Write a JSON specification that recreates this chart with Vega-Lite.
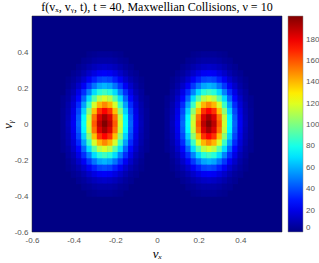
{
"$schema": "https://vega.github.io/schema/vega-lite/v6.json",
"width": 250, "height": 216,
"autosize": {"type": "none"},
"padding": {"left": 32, "top": 16, "right": 37, "bottom": 31},
"background": "white",
"title": {"text": "f(vₓ, vᵧ, t), t = 40, Maxwellian Collisions, ν = 10", "font": "Liberation Serif", "fontSize": 12, "fontWeight": "normal", "color": "#000000", "anchor": "middle", "offset": 2},
"data": {"values": [
{"x":-0.325,"y":0.385,"v":2},{"x":-0.3,"y":0.385,"v":3},{"x":-0.275,"y":0.385,"v":4},{"x":-0.25,"y":0.385,"v":4},{"x":-0.225,"y":0.385,"v":4},{"x":-0.2,"y":0.385,"v":3},{"x":-0.175,"y":0.385,"v":2},
{"x":0.175,"y":0.385,"v":2},{"x":0.2,"y":0.385,"v":3},{"x":0.225,"y":0.385,"v":4},{"x":0.25,"y":0.385,"v":4},{"x":0.275,"y":0.385,"v":4},{"x":0.3,"y":0.385,"v":3},{"x":0.325,"y":0.385,"v":2},
{"x":-0.35,"y":0.35,"v":3},{"x":-0.325,"y":0.35,"v":4},{"x":-0.3,"y":0.35,"v":6},{"x":-0.275,"y":0.35,"v":7},{"x":-0.25,"y":0.35,"v":7},{"x":-0.225,"y":0.35,"v":7},{"x":-0.2,"y":0.35,"v":6},{"x":-0.175,"y":0.35,"v":4},{"x":-0.15,"y":0.35,"v":3},
{"x":0.15,"y":0.35,"v":3},{"x":0.175,"y":0.35,"v":4},{"x":0.2,"y":0.35,"v":6},{"x":0.225,"y":0.35,"v":7},{"x":0.25,"y":0.35,"v":7},{"x":0.275,"y":0.35,"v":7},{"x":0.3,"y":0.35,"v":6},{"x":0.325,"y":0.35,"v":4},{"x":0.35,"y":0.35,"v":3},
{"x":-0.375,"y":0.315,"v":3},{"x":-0.35,"y":0.315,"v":5},{"x":-0.325,"y":0.315,"v":8},{"x":-0.3,"y":0.315,"v":11},{"x":-0.275,"y":0.315,"v":13},{"x":-0.25,"y":0.315,"v":14},{"x":-0.225,"y":0.315,"v":13},{"x":-0.2,"y":0.315,"v":11},{"x":-0.175,"y":0.315,"v":8},{"x":-0.15,"y":0.315,"v":5},{"x":-0.125,"y":0.315,"v":3},
{"x":0.125,"y":0.315,"v":3},{"x":0.15,"y":0.315,"v":5},{"x":0.175,"y":0.315,"v":8},{"x":0.2,"y":0.315,"v":11},{"x":0.225,"y":0.315,"v":13},{"x":0.25,"y":0.315,"v":14},{"x":0.275,"y":0.315,"v":13},{"x":0.3,"y":0.315,"v":11},{"x":0.325,"y":0.315,"v":8},{"x":0.35,"y":0.315,"v":5},{"x":0.375,"y":0.315,"v":3},
{"x":-0.4,"y":0.28,"v":3},{"x":-0.375,"y":0.28,"v":5},{"x":-0.35,"y":0.28,"v":9},{"x":-0.325,"y":0.28,"v":14},{"x":-0.3,"y":0.28,"v":19},{"x":-0.275,"y":0.28,"v":23},{"x":-0.25,"y":0.28,"v":24},{"x":-0.225,"y":0.28,"v":23},{"x":-0.2,"y":0.28,"v":19},{"x":-0.175,"y":0.28,"v":14},{"x":-0.15,"y":0.28,"v":9},{"x":-0.125,"y":0.28,"v":5},{"x":-0.1,"y":0.28,"v":3},
{"x":0.1,"y":0.28,"v":3},{"x":0.125,"y":0.28,"v":5},{"x":0.15,"y":0.28,"v":9},{"x":0.175,"y":0.28,"v":14},{"x":0.2,"y":0.28,"v":19},{"x":0.225,"y":0.28,"v":23},{"x":0.25,"y":0.28,"v":24},{"x":0.275,"y":0.28,"v":23},{"x":0.3,"y":0.28,"v":19},{"x":0.325,"y":0.28,"v":14},{"x":0.35,"y":0.28,"v":9},{"x":0.375,"y":0.28,"v":5},{"x":0.4,"y":0.28,"v":3},
{"x":-0.425,"y":0.245,"v":2},{"x":-0.4,"y":0.245,"v":5},{"x":-0.375,"y":0.245,"v":9},{"x":-0.35,"y":0.245,"v":15},{"x":-0.325,"y":0.245,"v":23},{"x":-0.3,"y":0.245,"v":31},{"x":-0.275,"y":0.245,"v":38},{"x":-0.25,"y":0.245,"v":40},{"x":-0.225,"y":0.245,"v":38},{"x":-0.2,"y":0.245,"v":31},{"x":-0.175,"y":0.245,"v":23},{"x":-0.15,"y":0.245,"v":15},{"x":-0.125,"y":0.245,"v":9},{"x":-0.1,"y":0.245,"v":5},{"x":-0.075,"y":0.245,"v":2},
{"x":0.075,"y":0.245,"v":2},{"x":0.1,"y":0.245,"v":5},{"x":0.125,"y":0.245,"v":9},{"x":0.15,"y":0.245,"v":15},{"x":0.175,"y":0.245,"v":23},{"x":0.2,"y":0.245,"v":31},{"x":0.225,"y":0.245,"v":38},{"x":0.25,"y":0.245,"v":40},{"x":0.275,"y":0.245,"v":38},{"x":0.3,"y":0.245,"v":31},{"x":0.325,"y":0.245,"v":23},{"x":0.35,"y":0.245,"v":15},{"x":0.375,"y":0.245,"v":9},{"x":0.4,"y":0.245,"v":5},{"x":0.425,"y":0.245,"v":2},
{"x":-0.425,"y":0.21,"v":3},{"x":-0.4,"y":0.21,"v":7},{"x":-0.375,"y":0.21,"v":14},{"x":-0.35,"y":0.21,"v":23},{"x":-0.325,"y":0.21,"v":36},{"x":-0.3,"y":0.21,"v":48},{"x":-0.275,"y":0.21,"v":58},{"x":-0.25,"y":0.21,"v":61},{"x":-0.225,"y":0.21,"v":58},{"x":-0.2,"y":0.21,"v":48},{"x":-0.175,"y":0.21,"v":36},{"x":-0.15,"y":0.21,"v":23},{"x":-0.125,"y":0.21,"v":14},{"x":-0.1,"y":0.21,"v":7},{"x":-0.075,"y":0.21,"v":3},
{"x":0.075,"y":0.21,"v":3},{"x":0.1,"y":0.21,"v":7},{"x":0.125,"y":0.21,"v":14},{"x":0.15,"y":0.21,"v":23},{"x":0.175,"y":0.21,"v":36},{"x":0.2,"y":0.21,"v":48},{"x":0.225,"y":0.21,"v":58},{"x":0.25,"y":0.21,"v":61},{"x":0.275,"y":0.21,"v":58},{"x":0.3,"y":0.21,"v":48},{"x":0.325,"y":0.21,"v":36},{"x":0.35,"y":0.21,"v":23},{"x":0.375,"y":0.21,"v":14},{"x":0.4,"y":0.21,"v":7},{"x":0.425,"y":0.21,"v":3},
{"x":-0.425,"y":0.175,"v":5},{"x":-0.4,"y":0.175,"v":10},{"x":-0.375,"y":0.175,"v":20},{"x":-0.35,"y":0.175,"v":34},{"x":-0.325,"y":0.175,"v":51},{"x":-0.3,"y":0.175,"v":69},{"x":-0.275,"y":0.175,"v":83},{"x":-0.25,"y":0.175,"v":88},{"x":-0.225,"y":0.175,"v":83},{"x":-0.2,"y":0.175,"v":69},{"x":-0.175,"y":0.175,"v":51},{"x":-0.15,"y":0.175,"v":34},{"x":-0.125,"y":0.175,"v":20},{"x":-0.1,"y":0.175,"v":10},{"x":-0.075,"y":0.175,"v":5},
{"x":0.075,"y":0.175,"v":5},{"x":0.1,"y":0.175,"v":10},{"x":0.125,"y":0.175,"v":20},{"x":0.15,"y":0.175,"v":34},{"x":0.175,"y":0.175,"v":51},{"x":0.2,"y":0.175,"v":69},{"x":0.225,"y":0.175,"v":83},{"x":0.25,"y":0.175,"v":88},{"x":0.275,"y":0.175,"v":83},{"x":0.3,"y":0.175,"v":69},{"x":0.325,"y":0.175,"v":51},{"x":0.35,"y":0.175,"v":34},{"x":0.375,"y":0.175,"v":20},{"x":0.4,"y":0.175,"v":10},{"x":0.425,"y":0.175,"v":5},
{"x":-0.45,"y":0.14,"v":3},{"x":-0.425,"y":0.14,"v":6},{"x":-0.4,"y":0.14,"v":14},{"x":-0.375,"y":0.14,"v":26},{"x":-0.35,"y":0.14,"v":45},{"x":-0.325,"y":0.14,"v":69},{"x":-0.3,"y":0.14,"v":93},{"x":-0.275,"y":0.14,"v":112},{"x":-0.25,"y":0.14,"v":119},{"x":-0.225,"y":0.14,"v":112},{"x":-0.2,"y":0.14,"v":93},{"x":-0.175,"y":0.14,"v":69},{"x":-0.15,"y":0.14,"v":45},{"x":-0.125,"y":0.14,"v":26},{"x":-0.1,"y":0.14,"v":14},{"x":-0.075,"y":0.14,"v":6},{"x":-0.05,"y":0.14,"v":3},
{"x":0.05,"y":0.14,"v":3},{"x":0.075,"y":0.14,"v":6},{"x":0.1,"y":0.14,"v":14},{"x":0.125,"y":0.14,"v":26},{"x":0.15,"y":0.14,"v":45},{"x":0.175,"y":0.14,"v":69},{"x":0.2,"y":0.14,"v":93},{"x":0.225,"y":0.14,"v":112},{"x":0.25,"y":0.14,"v":119},{"x":0.275,"y":0.14,"v":112},{"x":0.3,"y":0.14,"v":93},{"x":0.325,"y":0.14,"v":69},{"x":0.35,"y":0.14,"v":45},{"x":0.375,"y":0.14,"v":26},{"x":0.4,"y":0.14,"v":14},{"x":0.425,"y":0.14,"v":6},{"x":0.45,"y":0.14,"v":3},
{"x":-0.45,"y":0.105,"v":3},{"x":-0.425,"y":0.105,"v":8},{"x":-0.4,"y":0.105,"v":17},{"x":-0.375,"y":0.105,"v":33},{"x":-0.35,"y":0.105,"v":57},{"x":-0.325,"y":0.105,"v":87},{"x":-0.3,"y":0.105,"v":118},{"x":-0.275,"y":0.105,"v":141},{"x":-0.25,"y":0.105,"v":150},{"x":-0.225,"y":0.105,"v":141},{"x":-0.2,"y":0.105,"v":118},{"x":-0.175,"y":0.105,"v":87},{"x":-0.15,"y":0.105,"v":57},{"x":-0.125,"y":0.105,"v":33},{"x":-0.1,"y":0.105,"v":17},{"x":-0.075,"y":0.105,"v":8},{"x":-0.05,"y":0.105,"v":3},
{"x":0.05,"y":0.105,"v":3},{"x":0.075,"y":0.105,"v":8},{"x":0.1,"y":0.105,"v":17},{"x":0.125,"y":0.105,"v":33},{"x":0.15,"y":0.105,"v":57},{"x":0.175,"y":0.105,"v":87},{"x":0.2,"y":0.105,"v":118},{"x":0.225,"y":0.105,"v":141},{"x":0.25,"y":0.105,"v":150},{"x":0.275,"y":0.105,"v":141},{"x":0.3,"y":0.105,"v":118},{"x":0.325,"y":0.105,"v":87},{"x":0.35,"y":0.105,"v":57},{"x":0.375,"y":0.105,"v":33},{"x":0.4,"y":0.105,"v":17},{"x":0.425,"y":0.105,"v":8},{"x":0.45,"y":0.105,"v":3},
{"x":-0.45,"y":0.07,"v":4},{"x":-0.425,"y":0.07,"v":9},{"x":-0.4,"y":0.07,"v":20},{"x":-0.375,"y":0.07,"v":39},{"x":-0.35,"y":0.07,"v":67},{"x":-0.325,"y":0.07,"v":103},{"x":-0.3,"y":0.07,"v":139},{"x":-0.275,"y":0.07,"v":167},{"x":-0.25,"y":0.07,"v":177},{"x":-0.225,"y":0.07,"v":167},{"x":-0.2,"y":0.07,"v":139},{"x":-0.175,"y":0.07,"v":103},{"x":-0.15,"y":0.07,"v":67},{"x":-0.125,"y":0.07,"v":39},{"x":-0.1,"y":0.07,"v":20},{"x":-0.075,"y":0.07,"v":9},{"x":-0.05,"y":0.07,"v":4},
{"x":0.05,"y":0.07,"v":4},{"x":0.075,"y":0.07,"v":9},{"x":0.1,"y":0.07,"v":20},{"x":0.125,"y":0.07,"v":39},{"x":0.15,"y":0.07,"v":67},{"x":0.175,"y":0.07,"v":103},{"x":0.2,"y":0.07,"v":139},{"x":0.225,"y":0.07,"v":167},{"x":0.25,"y":0.07,"v":177},{"x":0.275,"y":0.07,"v":167},{"x":0.3,"y":0.07,"v":139},{"x":0.325,"y":0.07,"v":103},{"x":0.35,"y":0.07,"v":67},{"x":0.375,"y":0.07,"v":39},{"x":0.4,"y":0.07,"v":20},{"x":0.425,"y":0.07,"v":9},{"x":0.45,"y":0.07,"v":4},
{"x":-0.45,"y":0.035,"v":4},{"x":-0.425,"y":0.035,"v":10},{"x":-0.4,"y":0.035,"v":22},{"x":-0.375,"y":0.035,"v":43},{"x":-0.35,"y":0.035,"v":75},{"x":-0.325,"y":0.035,"v":114},{"x":-0.3,"y":0.035,"v":154},{"x":-0.275,"y":0.035,"v":184},{"x":-0.25,"y":0.035,"v":195},{"x":-0.225,"y":0.035,"v":184},{"x":-0.2,"y":0.035,"v":154},{"x":-0.175,"y":0.035,"v":114},{"x":-0.15,"y":0.035,"v":75},{"x":-0.125,"y":0.035,"v":43},{"x":-0.1,"y":0.035,"v":22},{"x":-0.075,"y":0.035,"v":10},{"x":-0.05,"y":0.035,"v":4},
{"x":0.05,"y":0.035,"v":4},{"x":0.075,"y":0.035,"v":10},{"x":0.1,"y":0.035,"v":22},{"x":0.125,"y":0.035,"v":43},{"x":0.15,"y":0.035,"v":75},{"x":0.175,"y":0.035,"v":114},{"x":0.2,"y":0.035,"v":154},{"x":0.225,"y":0.035,"v":184},{"x":0.25,"y":0.035,"v":195},{"x":0.275,"y":0.035,"v":184},{"x":0.3,"y":0.035,"v":154},{"x":0.325,"y":0.035,"v":114},{"x":0.35,"y":0.035,"v":75},{"x":0.375,"y":0.035,"v":43},{"x":0.4,"y":0.035,"v":22},{"x":0.425,"y":0.035,"v":10},{"x":0.45,"y":0.035,"v":4},
{"x":-0.45,"y":0,"v":4},{"x":-0.425,"y":0,"v":11},{"x":-0.4,"y":0,"v":23},{"x":-0.375,"y":0,"v":45},{"x":-0.35,"y":0,"v":77},{"x":-0.325,"y":0,"v":117},{"x":-0.3,"y":0,"v":159},{"x":-0.275,"y":0,"v":190},{"x":-0.25,"y":0,"v":202},{"x":-0.225,"y":0,"v":190},{"x":-0.2,"y":0,"v":159},{"x":-0.175,"y":0,"v":117},{"x":-0.15,"y":0,"v":77},{"x":-0.125,"y":0,"v":45},{"x":-0.1,"y":0,"v":23},{"x":-0.075,"y":0,"v":11},{"x":-0.05,"y":0,"v":4},
{"x":0.05,"y":0,"v":4},{"x":0.075,"y":0,"v":11},{"x":0.1,"y":0,"v":23},{"x":0.125,"y":0,"v":45},{"x":0.15,"y":0,"v":77},{"x":0.175,"y":0,"v":117},{"x":0.2,"y":0,"v":159},{"x":0.225,"y":0,"v":190},{"x":0.25,"y":0,"v":202},{"x":0.275,"y":0,"v":190},{"x":0.3,"y":0,"v":159},{"x":0.325,"y":0,"v":117},{"x":0.35,"y":0,"v":77},{"x":0.375,"y":0,"v":45},{"x":0.4,"y":0,"v":23},{"x":0.425,"y":0,"v":11},{"x":0.45,"y":0,"v":4},
{"x":-0.45,"y":-0.035,"v":4},{"x":-0.425,"y":-0.035,"v":10},{"x":-0.4,"y":-0.035,"v":22},{"x":-0.375,"y":-0.035,"v":43},{"x":-0.35,"y":-0.035,"v":75},{"x":-0.325,"y":-0.035,"v":114},{"x":-0.3,"y":-0.035,"v":154},{"x":-0.275,"y":-0.035,"v":184},{"x":-0.25,"y":-0.035,"v":195},{"x":-0.225,"y":-0.035,"v":184},{"x":-0.2,"y":-0.035,"v":154},{"x":-0.175,"y":-0.035,"v":114},{"x":-0.15,"y":-0.035,"v":75},{"x":-0.125,"y":-0.035,"v":43},{"x":-0.1,"y":-0.035,"v":22},{"x":-0.075,"y":-0.035,"v":10},{"x":-0.05,"y":-0.035,"v":4},
{"x":0.05,"y":-0.035,"v":4},{"x":0.075,"y":-0.035,"v":10},{"x":0.1,"y":-0.035,"v":22},{"x":0.125,"y":-0.035,"v":43},{"x":0.15,"y":-0.035,"v":75},{"x":0.175,"y":-0.035,"v":114},{"x":0.2,"y":-0.035,"v":154},{"x":0.225,"y":-0.035,"v":184},{"x":0.25,"y":-0.035,"v":195},{"x":0.275,"y":-0.035,"v":184},{"x":0.3,"y":-0.035,"v":154},{"x":0.325,"y":-0.035,"v":114},{"x":0.35,"y":-0.035,"v":75},{"x":0.375,"y":-0.035,"v":43},{"x":0.4,"y":-0.035,"v":22},{"x":0.425,"y":-0.035,"v":10},{"x":0.45,"y":-0.035,"v":4},
{"x":-0.45,"y":-0.07,"v":4},{"x":-0.425,"y":-0.07,"v":9},{"x":-0.4,"y":-0.07,"v":20},{"x":-0.375,"y":-0.07,"v":39},{"x":-0.35,"y":-0.07,"v":67},{"x":-0.325,"y":-0.07,"v":103},{"x":-0.3,"y":-0.07,"v":139},{"x":-0.275,"y":-0.07,"v":167},{"x":-0.25,"y":-0.07,"v":177},{"x":-0.225,"y":-0.07,"v":167},{"x":-0.2,"y":-0.07,"v":139},{"x":-0.175,"y":-0.07,"v":103},{"x":-0.15,"y":-0.07,"v":67},{"x":-0.125,"y":-0.07,"v":39},{"x":-0.1,"y":-0.07,"v":20},{"x":-0.075,"y":-0.07,"v":9},{"x":-0.05,"y":-0.07,"v":4},
{"x":0.05,"y":-0.07,"v":4},{"x":0.075,"y":-0.07,"v":9},{"x":0.1,"y":-0.07,"v":20},{"x":0.125,"y":-0.07,"v":39},{"x":0.15,"y":-0.07,"v":67},{"x":0.175,"y":-0.07,"v":103},{"x":0.2,"y":-0.07,"v":139},{"x":0.225,"y":-0.07,"v":167},{"x":0.25,"y":-0.07,"v":177},{"x":0.275,"y":-0.07,"v":167},{"x":0.3,"y":-0.07,"v":139},{"x":0.325,"y":-0.07,"v":103},{"x":0.35,"y":-0.07,"v":67},{"x":0.375,"y":-0.07,"v":39},{"x":0.4,"y":-0.07,"v":20},{"x":0.425,"y":-0.07,"v":9},{"x":0.45,"y":-0.07,"v":4},
{"x":-0.45,"y":-0.105,"v":3},{"x":-0.425,"y":-0.105,"v":8},{"x":-0.4,"y":-0.105,"v":17},{"x":-0.375,"y":-0.105,"v":33},{"x":-0.35,"y":-0.105,"v":57},{"x":-0.325,"y":-0.105,"v":87},{"x":-0.3,"y":-0.105,"v":118},{"x":-0.275,"y":-0.105,"v":141},{"x":-0.25,"y":-0.105,"v":150},{"x":-0.225,"y":-0.105,"v":141},{"x":-0.2,"y":-0.105,"v":118},{"x":-0.175,"y":-0.105,"v":87},{"x":-0.15,"y":-0.105,"v":57},{"x":-0.125,"y":-0.105,"v":33},{"x":-0.1,"y":-0.105,"v":17},{"x":-0.075,"y":-0.105,"v":8},{"x":-0.05,"y":-0.105,"v":3},
{"x":0.05,"y":-0.105,"v":3},{"x":0.075,"y":-0.105,"v":8},{"x":0.1,"y":-0.105,"v":17},{"x":0.125,"y":-0.105,"v":33},{"x":0.15,"y":-0.105,"v":57},{"x":0.175,"y":-0.105,"v":87},{"x":0.2,"y":-0.105,"v":118},{"x":0.225,"y":-0.105,"v":141},{"x":0.25,"y":-0.105,"v":150},{"x":0.275,"y":-0.105,"v":141},{"x":0.3,"y":-0.105,"v":118},{"x":0.325,"y":-0.105,"v":87},{"x":0.35,"y":-0.105,"v":57},{"x":0.375,"y":-0.105,"v":33},{"x":0.4,"y":-0.105,"v":17},{"x":0.425,"y":-0.105,"v":8},{"x":0.45,"y":-0.105,"v":3},
{"x":-0.45,"y":-0.14,"v":3},{"x":-0.425,"y":-0.14,"v":6},{"x":-0.4,"y":-0.14,"v":14},{"x":-0.375,"y":-0.14,"v":26},{"x":-0.35,"y":-0.14,"v":45},{"x":-0.325,"y":-0.14,"v":69},{"x":-0.3,"y":-0.14,"v":93},{"x":-0.275,"y":-0.14,"v":112},{"x":-0.25,"y":-0.14,"v":119},{"x":-0.225,"y":-0.14,"v":112},{"x":-0.2,"y":-0.14,"v":93},{"x":-0.175,"y":-0.14,"v":69},{"x":-0.15,"y":-0.14,"v":45},{"x":-0.125,"y":-0.14,"v":26},{"x":-0.1,"y":-0.14,"v":14},{"x":-0.075,"y":-0.14,"v":6},{"x":-0.05,"y":-0.14,"v":3},
{"x":0.05,"y":-0.14,"v":3},{"x":0.075,"y":-0.14,"v":6},{"x":0.1,"y":-0.14,"v":14},{"x":0.125,"y":-0.14,"v":26},{"x":0.15,"y":-0.14,"v":45},{"x":0.175,"y":-0.14,"v":69},{"x":0.2,"y":-0.14,"v":93},{"x":0.225,"y":-0.14,"v":112},{"x":0.25,"y":-0.14,"v":119},{"x":0.275,"y":-0.14,"v":112},{"x":0.3,"y":-0.14,"v":93},{"x":0.325,"y":-0.14,"v":69},{"x":0.35,"y":-0.14,"v":45},{"x":0.375,"y":-0.14,"v":26},{"x":0.4,"y":-0.14,"v":14},{"x":0.425,"y":-0.14,"v":6},{"x":0.45,"y":-0.14,"v":3},
{"x":-0.425,"y":-0.175,"v":5},{"x":-0.4,"y":-0.175,"v":10},{"x":-0.375,"y":-0.175,"v":20},{"x":-0.35,"y":-0.175,"v":34},{"x":-0.325,"y":-0.175,"v":51},{"x":-0.3,"y":-0.175,"v":69},{"x":-0.275,"y":-0.175,"v":83},{"x":-0.25,"y":-0.175,"v":88},{"x":-0.225,"y":-0.175,"v":83},{"x":-0.2,"y":-0.175,"v":69},{"x":-0.175,"y":-0.175,"v":51},{"x":-0.15,"y":-0.175,"v":34},{"x":-0.125,"y":-0.175,"v":20},{"x":-0.1,"y":-0.175,"v":10},{"x":-0.075,"y":-0.175,"v":5},
{"x":0.075,"y":-0.175,"v":5},{"x":0.1,"y":-0.175,"v":10},{"x":0.125,"y":-0.175,"v":20},{"x":0.15,"y":-0.175,"v":34},{"x":0.175,"y":-0.175,"v":51},{"x":0.2,"y":-0.175,"v":69},{"x":0.225,"y":-0.175,"v":83},{"x":0.25,"y":-0.175,"v":88},{"x":0.275,"y":-0.175,"v":83},{"x":0.3,"y":-0.175,"v":69},{"x":0.325,"y":-0.175,"v":51},{"x":0.35,"y":-0.175,"v":34},{"x":0.375,"y":-0.175,"v":20},{"x":0.4,"y":-0.175,"v":10},{"x":0.425,"y":-0.175,"v":5},
{"x":-0.425,"y":-0.21,"v":3},{"x":-0.4,"y":-0.21,"v":7},{"x":-0.375,"y":-0.21,"v":14},{"x":-0.35,"y":-0.21,"v":23},{"x":-0.325,"y":-0.21,"v":36},{"x":-0.3,"y":-0.21,"v":48},{"x":-0.275,"y":-0.21,"v":58},{"x":-0.25,"y":-0.21,"v":61},{"x":-0.225,"y":-0.21,"v":58},{"x":-0.2,"y":-0.21,"v":48},{"x":-0.175,"y":-0.21,"v":36},{"x":-0.15,"y":-0.21,"v":23},{"x":-0.125,"y":-0.21,"v":14},{"x":-0.1,"y":-0.21,"v":7},{"x":-0.075,"y":-0.21,"v":3},
{"x":0.075,"y":-0.21,"v":3},{"x":0.1,"y":-0.21,"v":7},{"x":0.125,"y":-0.21,"v":14},{"x":0.15,"y":-0.21,"v":23},{"x":0.175,"y":-0.21,"v":36},{"x":0.2,"y":-0.21,"v":48},{"x":0.225,"y":-0.21,"v":58},{"x":0.25,"y":-0.21,"v":61},{"x":0.275,"y":-0.21,"v":58},{"x":0.3,"y":-0.21,"v":48},{"x":0.325,"y":-0.21,"v":36},{"x":0.35,"y":-0.21,"v":23},{"x":0.375,"y":-0.21,"v":14},{"x":0.4,"y":-0.21,"v":7},{"x":0.425,"y":-0.21,"v":3},
{"x":-0.425,"y":-0.245,"v":2},{"x":-0.4,"y":-0.245,"v":5},{"x":-0.375,"y":-0.245,"v":9},{"x":-0.35,"y":-0.245,"v":15},{"x":-0.325,"y":-0.245,"v":23},{"x":-0.3,"y":-0.245,"v":31},{"x":-0.275,"y":-0.245,"v":38},{"x":-0.25,"y":-0.245,"v":40},{"x":-0.225,"y":-0.245,"v":38},{"x":-0.2,"y":-0.245,"v":31},{"x":-0.175,"y":-0.245,"v":23},{"x":-0.15,"y":-0.245,"v":15},{"x":-0.125,"y":-0.245,"v":9},{"x":-0.1,"y":-0.245,"v":5},{"x":-0.075,"y":-0.245,"v":2},
{"x":0.075,"y":-0.245,"v":2},{"x":0.1,"y":-0.245,"v":5},{"x":0.125,"y":-0.245,"v":9},{"x":0.15,"y":-0.245,"v":15},{"x":0.175,"y":-0.245,"v":23},{"x":0.2,"y":-0.245,"v":31},{"x":0.225,"y":-0.245,"v":38},{"x":0.25,"y":-0.245,"v":40},{"x":0.275,"y":-0.245,"v":38},{"x":0.3,"y":-0.245,"v":31},{"x":0.325,"y":-0.245,"v":23},{"x":0.35,"y":-0.245,"v":15},{"x":0.375,"y":-0.245,"v":9},{"x":0.4,"y":-0.245,"v":5},{"x":0.425,"y":-0.245,"v":2},
{"x":-0.4,"y":-0.28,"v":3},{"x":-0.375,"y":-0.28,"v":5},{"x":-0.35,"y":-0.28,"v":9},{"x":-0.325,"y":-0.28,"v":14},{"x":-0.3,"y":-0.28,"v":19},{"x":-0.275,"y":-0.28,"v":23},{"x":-0.25,"y":-0.28,"v":24},{"x":-0.225,"y":-0.28,"v":23},{"x":-0.2,"y":-0.28,"v":19},{"x":-0.175,"y":-0.28,"v":14},{"x":-0.15,"y":-0.28,"v":9},{"x":-0.125,"y":-0.28,"v":5},{"x":-0.1,"y":-0.28,"v":3},
{"x":0.1,"y":-0.28,"v":3},{"x":0.125,"y":-0.28,"v":5},{"x":0.15,"y":-0.28,"v":9},{"x":0.175,"y":-0.28,"v":14},{"x":0.2,"y":-0.28,"v":19},{"x":0.225,"y":-0.28,"v":23},{"x":0.25,"y":-0.28,"v":24},{"x":0.275,"y":-0.28,"v":23},{"x":0.3,"y":-0.28,"v":19},{"x":0.325,"y":-0.28,"v":14},{"x":0.35,"y":-0.28,"v":9},{"x":0.375,"y":-0.28,"v":5},{"x":0.4,"y":-0.28,"v":3},
{"x":-0.375,"y":-0.315,"v":3},{"x":-0.35,"y":-0.315,"v":5},{"x":-0.325,"y":-0.315,"v":8},{"x":-0.3,"y":-0.315,"v":11},{"x":-0.275,"y":-0.315,"v":13},{"x":-0.25,"y":-0.315,"v":14},{"x":-0.225,"y":-0.315,"v":13},{"x":-0.2,"y":-0.315,"v":11},{"x":-0.175,"y":-0.315,"v":8},{"x":-0.15,"y":-0.315,"v":5},{"x":-0.125,"y":-0.315,"v":3},
{"x":0.125,"y":-0.315,"v":3},{"x":0.15,"y":-0.315,"v":5},{"x":0.175,"y":-0.315,"v":8},{"x":0.2,"y":-0.315,"v":11},{"x":0.225,"y":-0.315,"v":13},{"x":0.25,"y":-0.315,"v":14},{"x":0.275,"y":-0.315,"v":13},{"x":0.3,"y":-0.315,"v":11},{"x":0.325,"y":-0.315,"v":8},{"x":0.35,"y":-0.315,"v":5},{"x":0.375,"y":-0.315,"v":3},
{"x":-0.35,"y":-0.35,"v":3},{"x":-0.325,"y":-0.35,"v":4},{"x":-0.3,"y":-0.35,"v":6},{"x":-0.275,"y":-0.35,"v":7},{"x":-0.25,"y":-0.35,"v":7},{"x":-0.225,"y":-0.35,"v":7},{"x":-0.2,"y":-0.35,"v":6},{"x":-0.175,"y":-0.35,"v":4},{"x":-0.15,"y":-0.35,"v":3},
{"x":0.15,"y":-0.35,"v":3},{"x":0.175,"y":-0.35,"v":4},{"x":0.2,"y":-0.35,"v":6},{"x":0.225,"y":-0.35,"v":7},{"x":0.25,"y":-0.35,"v":7},{"x":0.275,"y":-0.35,"v":7},{"x":0.3,"y":-0.35,"v":6},{"x":0.325,"y":-0.35,"v":4},{"x":0.35,"y":-0.35,"v":3},
{"x":-0.325,"y":-0.385,"v":2},{"x":-0.3,"y":-0.385,"v":3},{"x":-0.275,"y":-0.385,"v":4},{"x":-0.25,"y":-0.385,"v":4},{"x":-0.225,"y":-0.385,"v":4},{"x":-0.2,"y":-0.385,"v":3},{"x":-0.175,"y":-0.385,"v":2},
{"x":0.175,"y":-0.385,"v":2},{"x":0.2,"y":-0.385,"v":3},{"x":0.225,"y":-0.385,"v":4},{"x":0.25,"y":-0.385,"v":4},{"x":0.275,"y":-0.385,"v":4},{"x":0.3,"y":-0.385,"v":3},{"x":0.325,"y":-0.385,"v":2}
]},
"mark": {"type": "rect", "width": 5.8, "height": 6.9},
"encoding": {
"x": {"field": "x", "type": "quantitative", "scale": {"domain": [-0.6, 0.6], "nice": false, "zero": false},
 "axis": {"values": [-0.6, -0.4, -0.2, 0, 0.2, 0.4], "labelExpr": "datum.value == 0 ? '0' : toString(round(datum.value*10)/10)", "grid": false, "ticks": false, "domain": false, "labelFlush": false, "labelOverlap": false, "labelFont": "Liberation Sans", "labelFontSize": 8, "labelColor": "#555555", "labelPadding": 4, "title": "vₓ", "titleFont": "Liberation Serif", "titleFontStyle": "italic", "titleFontSize": 13, "titleFontWeight": "normal", "titleColor": "#000000", "titlePadding": 3}},
"y": {"field": "y", "type": "quantitative", "scale": {"domain": [-0.6, 0.6], "nice": false, "zero": false},
 "axis": {"values": [-0.6, -0.4, -0.2, 0, 0.2, 0.4], "labelExpr": "datum.value == 0 ? '0' : toString(round(datum.value*10)/10)", "grid": false, "ticks": false, "domain": false, "labelFlush": false, "labelOverlap": false, "labelFont": "Liberation Sans", "labelFontSize": 8, "labelColor": "#555555", "labelPadding": 4, "title": "vᵧ", "titleFont": "Liberation Serif", "titleFontStyle": "italic", "titleFontSize": 13, "titleFontWeight": "normal", "titleColor": "#000000", "titlePadding": 0}},
"color": {"field": "v", "type": "quantitative",
 "scale": {"domain": [0, 25.25, 75.75, 126.25, 176.75, 202], "range": ["#000085", "#0000ff", "#00ffff", "#ffff00", "#ff0000", "#800000"], "interpolate": "rgb"},
 "legend": {"title": null, "orient": "right", "direction": "vertical", "values": [0, 20, 40, 60, 80, 100, 120, 140, 160, 180], "gradientLength": 216, "gradientThickness": 15, "offset": 6, "padding": 0, "labelFont": "Liberation Sans", "labelFontSize": 8, "labelColor": "#555555", "labelOffset": 3, "labelBaseline": "middle", "labelOverlap": false, "gradientStrokeColor": "#888888", "gradientStrokeWidth": 0.5}}
},
"config": {"view": {"fill": "#000085", "stroke": "#262626", "strokeWidth": 0.5}}
}
